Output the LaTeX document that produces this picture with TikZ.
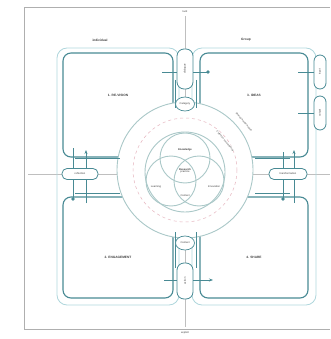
\documentclass[tikz,border=0pt]{standalone}
\usepackage{fontspec}
\setmainfont{Liberation Sans}
\usetikzlibrary{arrows.meta,shapes.geometric}
\definecolor{teal1}{RGB}{72,138,148}
\definecolor{teal2}{RGB}{175,214,220}
\definecolor{ring}{RGB}{170,200,200}
\definecolor{pinkd}{RGB}{230,180,190}
\definecolor{txt}{RGB}{60,60,60}
\definecolor{frame}{RGB}{175,175,175}
\tikzset{
  box/.style={draw=teal1,line width=1.1pt,rounded corners=8pt},
  outer/.style={draw=teal2,line width=0.8pt,rounded corners=10pt},
  pill/.style={draw=teal1,line width=0.8pt,rounded corners=7pt,fill=white},
  ell/.style={draw=teal1,line width=0.7pt,ellipse,fill=white,minimum width=19pt,minimum height=14pt,inner sep=0pt},
  lbl/.style={font=\fontsize{3.2}{3.6}\selectfont\bfseries,text=txt},
  small/.style={font=\fontsize{2.6}{3}\selectfont,text=txt,align=center},
  axis/.style={draw=frame!80,line width=0.5pt},
  conn/.style={draw=teal1,line width=0.8pt},
  circ/.style={draw=ring,line width=0.9pt},
}
\begin{document}
\begin{tikzpicture}[x=1pt,y=-1pt]
\useasboundingbox (0,0) rectangle (330,339);
% frame
\draw[frame,line width=0.8pt] (330,7) -- (24,7) -- (24,329) -- (330,329);
% axes
\draw[axis] (185,16) -- (185,327);
\draw[axis] (28,174) -- (330,174);
\node[small] (tacit) at (185,12) {tacit};
\node[small] (expl) at (185,333) {explicit};
% outer columns
\draw[outer] (57,48) rectangle (179,305);
\draw[outer] (192,48) rectangle (316,305);
\node[lbl] (indiv) at (100,40) {individual};
\node[lbl] (group) at (246,40) {Group};
% quadrant boxes
\node[box,minimum width=110pt,minimum height=104pt] (q1) at (118,105) {};
\node[box,minimum width=108pt,minimum height=104pt] (q3) at (254,105) {};
\node[box,minimum width=110pt,minimum height=101pt] (q2) at (118,247.5) {};
\node[box,minimum width=108pt,minimum height=101pt] (q4) at (254,247.5) {};
\node[lbl] at ([yshift=10pt]q1) {1. RE-VISION};
\node[lbl] at ([yshift=10pt]q3) {3. IDEAS};
\node[lbl] (t2) at ([yshift=-10pt]q2) {2. ENGAGEMENT};
\node[lbl] (t4) at ([yshift=-10pt]q4) {4. SHARE};
% circles
\draw[circ,fill=white] (185,170) circle (68);
\draw[draw=pinkd,dashed,line width=0.5pt] (185,170) circle (52);
\draw[circ] (185,172) circle (40);
\draw[circ] (185,158) circle (25);
\draw[circ] (171,181) circle (25);
\draw[circ] (199,181) circle (25);
\node[small] (k) at (185,150) {\bfseries Knowledge};
\node[small] (r) at (185,171) {\bfseries Research\\[-0.5pt]practice};
\node[small] (l) at (156,187) {Learning};
\node[small] (i) at (214,187) {Innovation};
\node[small] (c) at (185,196) {Context};
\node[small,rotate=-50,fill=white,inner sep=0.5pt,font=\fontsize{2.4}{2.7}\selectfont] (d1) at (244,122) {Shared mental models};
\node[small,rotate=-50,fill=white,inner sep=0.5pt,font=\fontsize{2.4}{2.7}\selectfont] (d2) at (225,141) {Collective sensemaking};
% connectors box-circle
\coordinate (a1) at (75,158); \coordinate (a2) at (120,158);
\draw[conn] (a1) -- (a2);
\coordinate (a3) at (75,193); \coordinate (a4) at (120,193);
\draw[conn] (a3) -- (a4);
\coordinate (a5) at (255,158); \coordinate (a6) at (290,158);
\draw[conn] (a5) -- (a6);
\coordinate (a7) at (255,193); \coordinate (a8) at (290,193);
\draw[conn] (a7) -- (a8);
\coordinate (b1) at (175,80); \coordinate (b2) at (175,108);
\draw[conn] (b1) -- (b2);
\coordinate (b3) at (196,80); \coordinate (b4) at (196,108);
\draw[conn] (b3) -- (b4);
\coordinate (b5) at (175,232); \coordinate (b6) at (175,268);
\draw[conn] (b5) -- (b6);
\coordinate (b7) at (196,232); \coordinate (b8) at (196,268);
\draw[conn] (b7) -- (b8);
% top pill and ellipse
\node[pill,minimum width=16pt,minimum height=40pt] (tp) at (185,69) {};
\node[small,rotate=90] at (tp) {dialogue};
\node[ell] (te) at (185,104) {};
\node[small] at (te) {Category};
\coordinate (tl) at (162,72);
\draw[conn] (tl) -- (tp.west|-tl);
\coordinate (tr) at (208,72);
\draw[conn] (tp.east|-tr) -- (tr);
\fill[teal1] (tr) circle (1.8pt);
% bottom pill and ellipse
\node[ell] (be) at (185,243) {};
\node[small] at (be) {Context};
\node[pill,minimum width=16pt,minimum height=36pt] (bp) at (185,281) {};
\node[small,rotate=90] at (bp) {action};
\coordinate (bl) at (164,280);
\draw[conn] (bl) -- (bp.west|-bl);
\coordinate (br) at (213,280);
\draw[conn,-{Stealth[length=4pt,width=3pt]}] (bp.east|-br) -- (br);
% left pill
\coordinate (l1a) at (73,148); \coordinate (l1b) at (73,199);
\draw[conn] (l1a) -- (l1b); \fill[teal1] (l1b) circle (1.8pt);
\coordinate (l2a) at (86,150); \coordinate (l2b) at (86,203);
\draw[conn,-{Stealth[length=4pt,width=3pt]}] (l2b) -- (l2a);
\node[pill,minimum width=36pt,minimum height=11pt,rounded corners=5pt] (lp) at (80,174) {};
\node[small] at (lp) {reflection};
% right pill
\coordinate (r1a) at (283,152); \coordinate (r1b) at (283,199);
\draw[conn] (r1a) -- (r1b); \fill[teal1] (r1b) circle (1.8pt);
\coordinate (r2a) at (294,150); \coordinate (r2b) at (294,203);
\draw[conn,-{Stealth[length=4pt,width=3pt]}] (r2b) -- (r2a);
\node[pill,minimum width=38pt,minimum height=11pt,rounded corners=5pt] (rp) at (288,174) {};
\node[small] at (rp) {transformation};
% right side pills
\node[pill,minimum width=12pt,minimum height=34pt,rounded corners=6pt] (sp1) at (320,72) {};
\node[pill,minimum width=12pt,minimum height=34pt,rounded corners=6pt] (sp2) at (320,113) {};
\node[small,rotate=90] at (sp1) {input};
\node[small,rotate=90] at (sp2) {output};
\coordinate (s1) at (298,72);
\draw[conn] (s1) -- (sp1.west|-s1);
\coordinate (s2) at (298,113);
\draw[conn] (s2) -- (sp2.west|-s2);
\end{tikzpicture}
\end{document}
